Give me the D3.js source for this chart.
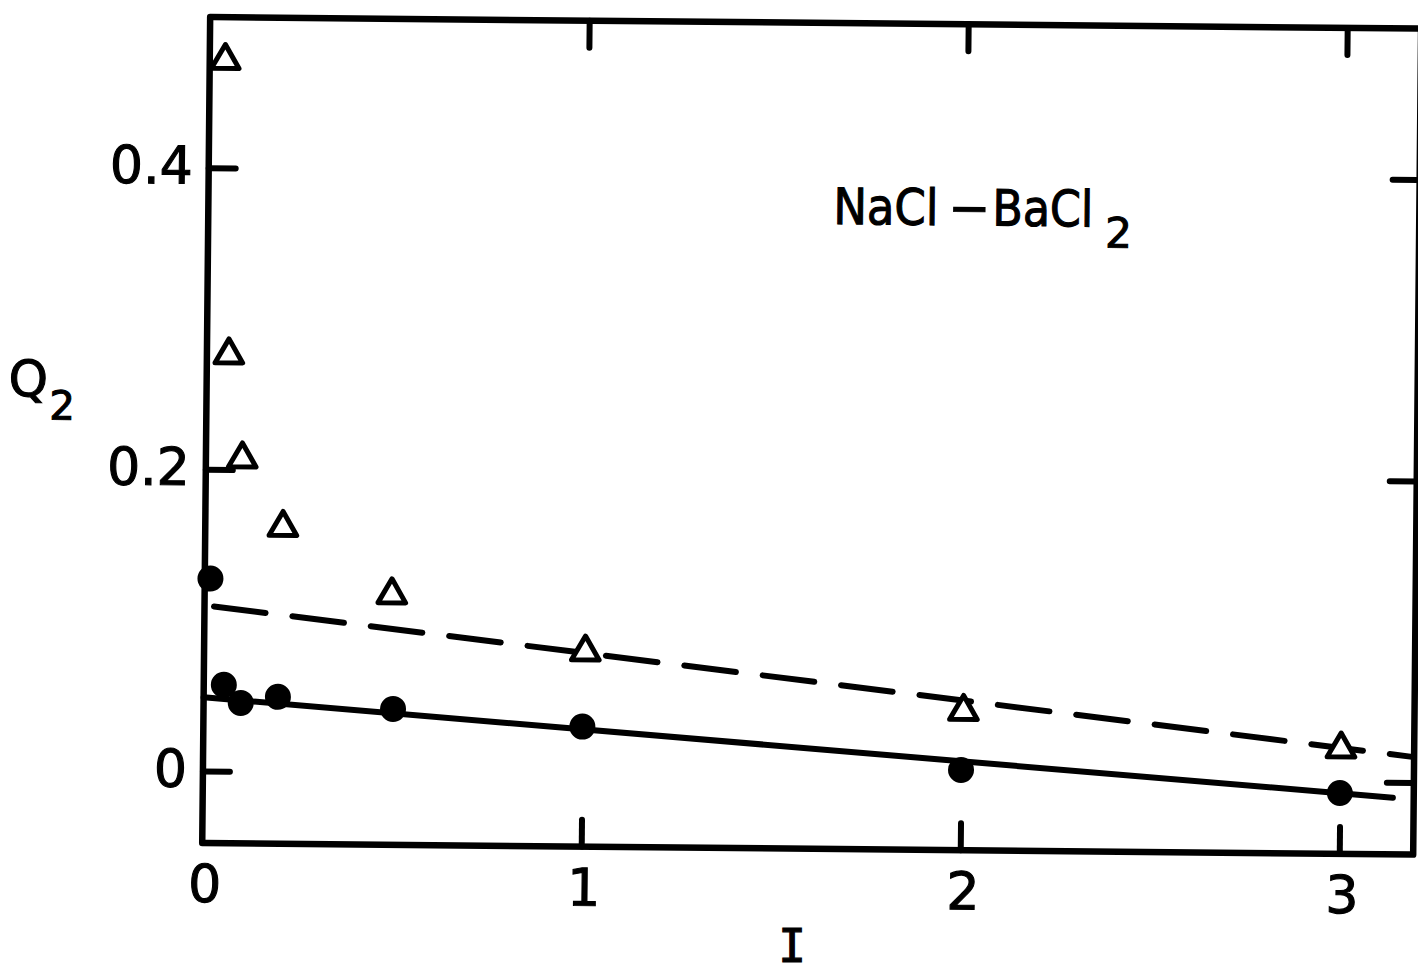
<!DOCTYPE html>
<html><head><meta charset="utf-8">
<script src="https://cdn.jsdelivr.net/npm/d3@7"></script>
<style>html,body{margin:0;padding:0;background:#fff;overflow:hidden}</style>
</head><body>
<svg id="c" width="1418" height="975"></svg>
<script>
// ---- data ----
const xTickValues = [1, 2, 3];
const xLabelValues = [0, 1, 2, 3];
const xLabelTexts = ["0", "1", "2", "3"];
const yTickValues = [0, 0.2, 0.4];
const yLabelTexts = ["0", "0.2", "0.4"];

// filled circles
const circleI = [0.015, 0.053, 0.098, 0.196, 0.5, 1.0, 2.0, 3.0];
const circleQ = [0.1276, 0.0572, 0.0453, 0.0496, 0.0423, 0.0318, 0.0055, -0.0074];

// open triangles
const triI = [0.041, 0.058, 0.096, 0.205, 0.494, 1.006, 2.005, 3.002];
const triQ = [0.4713, 0.2761, 0.2072, 0.162, 0.118, 0.0813, 0.0443, 0.0218];

// fitted lines (endpoints)
const solidI = [0, 3.14];
const solidQ = [0.0488, -0.0102];
const dashedI = [0.025, 3.19];
const dashedQ = [0.1091, 0.0170];

const annotation = ["NaCl", "−", "BaCl", "2"];
const xTitle = "I";
const yTitle = ["Q", "2"];

// ---- layout ----
const svg = d3.select("#c");
const g = svg.append("g").attr("transform", "rotate(0.55, 206, 450)");

const x = d3.scaleLinear().domain([0, 3.195]).range([206, 1417]);
const y = d3.scaleLinear().domain([-0.0478, 0.5]).range([843, 17]);

const font = "'DejaVu Sans', 'Liberation Sans', sans-serif";
function bold(sel) { return sel.attr("stroke", "#000").attr("stroke-width", 1.1).attr("fill", "#000"); }

// fitted lines
const line = d3.line().x(d => x(d[0])).y(d => y(d[1]));
g.append("path")
  .datum(solidI.map((v, i) => [v, solidQ[i]]))
  .attr("d", line).attr("fill", "none").attr("stroke", "#000")
  .attr("stroke-width", 6).attr("stroke-linecap", "round");
g.append("path")
  .datum(dashedI.map((v, i) => [v, dashedQ[i]]))
  .attr("d", line).attr("fill", "none").attr("stroke", "#000")
  .attr("stroke-width", 6).attr("stroke-linecap", "round")
  .attr("stroke-dasharray", "52 27");

// frame
g.append("rect")
  .attr("x", x.range()[0]).attr("y", y.range()[1])
  .attr("width", x.range()[1] - x.range()[0])
  .attr("height", y.range()[0] - y.range()[1])
  .attr("fill", "none").attr("stroke", "#000").attr("stroke-width", 6.5)
  .attr("stroke-linejoin", "round");

// inward ticks on all four sides
function styleTicks(sel) {
  sel.select(".domain").remove();
  sel.selectAll(".tick line").attr("stroke", "#000").attr("stroke-width", 6).attr("stroke-linecap", "round");
  sel.selectAll(".tick text").remove();
}
g.append("g").attr("transform", `translate(0,${y.range()[0]})`)
  .call(d3.axisBottom(x).tickValues(xTickValues).tickSize(-27).tickFormat("")).call(styleTicks);
g.append("g").attr("transform", `translate(0,${y.range()[1]})`)
  .call(d3.axisTop(x).tickValues(xTickValues).tickSize(-27).tickFormat("")).call(styleTicks);
g.append("g").attr("transform", `translate(${x.range()[0]},0)`)
  .call(d3.axisLeft(y).tickValues(yTickValues).tickSize(-27).tickFormat("")).call(styleTicks);
g.append("g").attr("transform", `translate(${x.range()[1]},0)`)
  .call(d3.axisRight(y).tickValues(yTickValues).tickSize(-27).tickFormat("")).call(styleTicks);

// tick labels
g.selectAll(".xl").data(xLabelValues).enter().append("text")
  .attr("x", d => x(d) + 3).attr("y", y.range()[0] + 59)
  .attr("text-anchor", "middle").attr("font-family", font).attr("font-size", 52)
  .text((d, i) => xLabelTexts[i]).call(bold);
g.selectAll(".yl").data(yTickValues).enter().append("text")
  .attr("x", x.range()[0] - 16).attr("y", d => y(d) + 16)
  .attr("text-anchor", "end").attr("font-family", font).attr("font-size", 52)
  .text((d, i) => yLabelTexts[i]).call(bold);

// axis titles (x title placed unrotated so it stays inside the page)
svg.append("text").attr("x", 792).attr("y", 962).attr("text-anchor", "middle")
  .attr("font-family", "'DejaVu Sans Mono', monospace").attr("font-size", 46).text(xTitle).call(bold);
g.append("text").attr("x", 8).attr("y", 398)
  .attr("font-family", font).attr("font-size", 50).text(yTitle[0]).call(bold);
g.append("text").attr("x", 49).attr("y", 421)
  .attr("font-family", font).attr("font-size", 40).text(yTitle[1]).call(bold);

// annotation
g.append("text").attr("x", 831).attr("y", 218).attr("font-family", font).attr("font-size", 50)
  .attr("textLength", 105).attr("lengthAdjust", "spacingAndGlyphs").text(annotation[0]).call(bold);
g.append("text").attr("x", 967).attr("y", 218).attr("text-anchor", "middle").attr("font-family", font).attr("font-size", 50)
  .text(annotation[1]).call(bold);
g.append("text").attr("x", 990).attr("y", 218).attr("font-family", font).attr("font-size", 50)
  .attr("textLength", 101).attr("lengthAdjust", "spacingAndGlyphs").text(annotation[2]).call(bold);
g.append("text").attr("x", 1103).attr("y", 239).attr("font-family", font).attr("font-size", 42)
  .text(annotation[3]).call(bold);

// triangles
const tri = d3.symbol().type(d3.symbolTriangle).size(330);
g.selectAll(".tri").data(triI.map((v, i) => [v, triQ[i]])).enter().append("path")
  .attr("d", tri).attr("transform", d => `translate(${x(d[0])},${y(d[1])})`)
  .attr("fill", "#fff").attr("stroke", "#000").attr("stroke-width", 5).attr("stroke-linejoin", "round");

// circles
g.selectAll(".dot").data(circleI.map((v, i) => [v, circleQ[i]])).enter().append("circle")
  .attr("cx", d => x(d[0])).attr("cy", d => y(d[1])).attr("r", 13).attr("fill", "#000");
</script>
</body></html>
